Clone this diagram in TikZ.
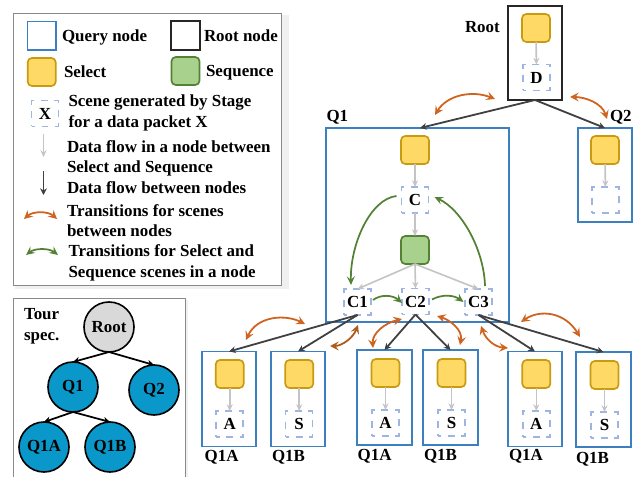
\documentclass[tikz,border=0pt]{standalone}
\usepackage{fontspec}
\setmainfont{Liberation Serif}
\usetikzlibrary{arrows.meta,calc}
\definecolor{qblue}{HTML}{3D80BF}
\definecolor{selfill}{HTML}{FFD966}
\definecolor{seldraw}{HTML}{C89B10}
\definecolor{seqfill}{HTML}{A9D18E}
\definecolor{seqdraw}{HTML}{548235}
\definecolor{scenec}{HTML}{9DB5E0}
\definecolor{orangec}{HTML}{CF6420}
\definecolor{darkorange}{HTML}{B05A1A}
\definecolor{flowgray}{HTML}{C4C4C4}
\definecolor{flowdark}{HTML}{404040}
\definecolor{treeblue}{HTML}{0A97C9}
\definecolor{frame}{HTML}{8A8A8A}
\tikzset{
  x=0.75pt,y=-0.75pt,
  every node/.style={font=\fontsize{12.7}{14}\selectfont\bfseries,inner sep=0pt,outer sep=0pt,text=black},
  wh/.style 2 args={minimum width=#1*0.75pt,minimum height=#2*0.75pt},
  qbox/.style 2 args={draw=qblue,line width=1.3pt,fill=white,wh={#1}{#2}},
  rootbox/.style 2 args={draw=black!85,line width=1.3pt,fill=white,wh={#1}{#2}},
  selbox/.style={draw=seldraw,fill=selfill,line width=1.25pt,rounded corners=3.2pt,wh={28}{28}},
  seqbox/.style={draw=seqdraw,fill=seqfill,line width=1.25pt,rounded corners=3.2pt,wh={28}{28}},
  scenebox/.style={draw=scenec,line width=1.15pt,wh={27}{26},dash pattern=on 5.2pt off 4.9pt,dash phase=2.6pt},
  lab/.style={anchor=base west},
  flow/.style={draw=flowgray,line width=1.2pt,-{Stealth[length=5pt,width=4.5pt]}},
  nodeflow/.style={draw=flowdark,line width=1.35pt,-{Stealth[length=5pt,width=5pt]}},
  orangearc/.style={draw=orangec,line width=1.35pt,{Stealth[length=6.5pt,width=6.5pt,inset=2.5pt]}-{Stealth[length=6.5pt,width=6.5pt,inset=2.5pt]}},
  greenarc/.style={draw=seqdraw,line width=1.3pt,-{Stealth[length=6.5pt,width=6pt,inset=2.5pt]}},
  greenarcs/.style={draw=seqdraw,line width=1.3pt,{Stealth[length=6.5pt,width=6pt,inset=2.5pt]}-{Stealth[length=6.5pt,width=6pt,inset=2.5pt]}},
  tree/.style={circle,draw=black,line width=1.2pt,minimum size=37.5pt},
  treearrow/.style={draw=black,line width=1.3pt,-{Stealth[length=5pt,width=5pt]}},
}
\begin{document}
\begin{tikzpicture}
\useasboundingbox (0,0) rectangle (639,477);
% legend
\fill[black!6] (15,15) rectangle (289,289);
\node[draw=frame,line width=0.7pt,fill=white,wh={268}{272}] (legend) at (147,149) {};
\node[qbox={28.5}{28.5}] (lq) at (41.7,35.7) {};
\node[rootbox={29}{29}] (lr) at (185.5,35.5) {};
\node[selbox] (ls) at (41.7,72) {};
\node[seqbox] (lseq) at (185.5,71) {};
\node[scenebox] (lx) at (45,113.5) {X};
\node[lab] (t1) at (62,41.5) {Query node};
\node[lab] (t2) at (204,41.5) {Root node};
\node[lab] (t3) at (64,78) {Select};
\node[lab] (t4) at (206,77) {Sequence};
\node[lab] (t5) at (68.5,107) {Scene generated by Stage};
\node[lab] (t6) at (68.5,128) {for a data packet X};
\node[lab] (t7) at (67,153) {Data flow in a node between};
\node[lab] (t8) at (67,173) {Select and Sequence};
\node[lab] (t9) at (67,194) {Data flow between nodes};
\node[lab] (t10) at (67,217) {Transitions for scenes};
\node[lab] (t11) at (67,237) {between nodes};
\node[lab] (t12) at (68.5,257) {Transitions for Select and};
\node[lab] (t13) at (68.5,278) {Sequence scenes in a node};
\coordinate (la1) at (43.5,134); \coordinate (la2) at (43.5,157);
\coordinate (lb1) at (43.5,171); \coordinate (lb2) at (43.5,195);
\coordinate (lc1) at (24,219); \coordinate (lc2) at (57,219);
\coordinate (ld1) at (26,255); \coordinate (ld2) at (58,255);
\draw[flow] (la1) -- (la2);
\draw[nodeflow] (lb1) -- (lb2);
\draw[orangearc] (lc1) .. controls (33,211) and (48,211) .. (lc2);
\draw[greenarcs] (ld1) .. controls (35,248) and (49,248) .. (ld2);
% tree panel
\fill[black!6] (15,300) rectangle (188,477);
\node[draw=frame,line width=0.7pt,fill=white,wh={172}{180}] (panel) at (99,388) {};
\node[lab] (tt1) at (24,320) {Tour};
\node[lab] (tt2) at (24,340) {spec.};
\node[tree,fill=black!15] (troot) at (109,327) {Root};
\node[tree,fill=treeblue] (tq1) at (73,387) {Q1};
\node[tree,fill=treeblue] (tq2) at (154,390) {Q2};
\node[tree,fill=treeblue] (tq1a) at (44,447) {Q1A};
\node[tree,fill=treeblue] (tq1b) at (110,447) {Q1B};
\draw[treearrow] (troot.south) -- (tq1.north);
\draw[treearrow] (troot.south) -- (tq2.north);
\draw[treearrow] (tq1.south) -- (tq1a.north);
\draw[treearrow] (tq1.south) -- (tq1b.north);
% root box
\node[rootbox={54}{94}] (root) at (535,53) {};
\node[selbox] (rs) at (536,28) {};
\node[scenebox] (rc) at (536.5,77.5) {D};
\draw[flow] (rs) -- (rc);
\node[lab] (rootl) at (465,33) {Root};
% Q1
\node[qbox={183}{194}] (q1) at (417.5,225) {};
\node[lab] (q1l) at (326.5,122) {Q1};
\node[selbox] (q1s) at (415,150) {};
\node[scenebox] (c) at (415,200) {C};
\node[seqbox] (q1q) at (415,250) {};
\node[scenebox] (c1) at (357.5,302) {C1};
\node[scenebox] (c2) at (415.5,301.5) {C2};
\node[scenebox] (c3) at (478.5,302) {C3};
\draw[flow] (q1s) -- (c);
\draw[flow] (c) -- (q1q);
\draw[flow] (q1q.south) -- (c1.north);
\draw[flow] (q1q.south) -- (c2.north);
\draw[flow] (q1q.south) -- (c3.north);
% Q2
\node[qbox={54}{94}] (q2) at (605,175) {};
\node[lab] (q2l) at (610,122) {Q2};
\node[selbox] (q2s) at (605,150) {};
\node[scenebox] (q2c) at (605.5,200) {};
\draw[flow] (q2s) -- (q2c);
% children
\node[qbox={54.5}{95}] (b1) at (229,399) {};
\node[qbox={54.5}{95}] (b2) at (298,399) {};
\node[qbox={54.5}{95}] (b3) at (384.5,397.5) {};
\node[qbox={54.5}{95}] (b4) at (450.5,397.5) {};
\node[qbox={54.5}{95}] (b5) at (535,399) {};
\node[qbox={54.5}{95}] (b6) at (603.5,399.5) {};
\node[selbox] (s1) at (229.7,374) {};
\node[selbox] (s2) at (299.2,374) {};
\node[selbox] (s3) at (385.5,373) {};
\node[selbox] (s4) at (451.5,373) {};
\node[selbox] (s5) at (536.3,374) {};
\node[selbox] (s6) at (604.5,375) {};
\node[scenebox] (a1) at (229.7,424) {A};
\node[scenebox] (a2) at (299.2,424) {S};
\node[scenebox] (a3) at (385.5,423) {A};
\node[scenebox] (a4) at (451.5,423) {S};
\node[scenebox] (a5) at (536.3,424) {A};
\node[scenebox] (a6) at (604.5,425) {S};
\foreach \i in {1,...,6} {\draw[flow] (s\i) -- (a\i);}
\node[lab] (l1) at (204.7,461) {Q1A};
\node[lab] (l2) at (272,461) {Q1B};
\node[lab] (l3) at (357.7,460.5) {Q1A};
\node[lab] (l4) at (424,460) {Q1B};
\node[lab] (l5) at (509,460) {Q1A};
\node[lab] (l6) at (576,463) {Q1B};
% flow between nodes
\draw[nodeflow] (root.south) -- ($(q1.north)+(2.5,0)$);
\draw[nodeflow] (root.south) -- (q2.north);
\draw[nodeflow] (c1.south) -- (b1.north);
\draw[nodeflow] (c1.south) -- (b2.north);
\draw[nodeflow] (c2.south) -- (b3.north);
\draw[nodeflow] (c2.south) -- (b4.north);
\draw[nodeflow] (c3.south) -- (b5.north);
\draw[nodeflow] (c3.south) -- (b6.north);
% green transitions
\draw[greenarc] ($(c.west)+(-5,-4)$) .. controls (370,199) and (350,245) .. ($(c1.north)+(-6.5,-4)$);
\draw[greenarc] ($(c3.north)+(6.5,-3)$) .. controls (484,250) and (462,210) .. ($(c.east)+(6,-3)$);
\draw[greenarc] ($(c1.east)+(2,-2)$) .. controls (381,294) and (393,295) .. ($(c2.west)+(0,1.5)$);
\draw[greenarc] ($(c2.east)+(3,-2)$) .. controls (442,294) and (454,295) .. ($(c3.west)+(-1.5,0)$);
% orange transitions
\coordinate (o1a) at (435,115); \coordinate (o1b) at (495,99);
\coordinate (o2a) at (570,97); \coordinate (o2b) at (607,119);
\coordinate (o3a) at (246,340); \coordinate (o3b) at (305,324);
\coordinate (o4a) at (330,346); \coordinate (o4b) at (358,325);
\coordinate (o5a) at (373,348); \coordinate (o5b) at (402,319);
\coordinate (o6a) at (437,316); \coordinate (o6b) at (460,345);
\coordinate (o7a) at (481,326); \coordinate (o7b) at (508,348);
\coordinate (o8a) at (521,322); \coordinate (o8b) at (580,337);
\draw[orangearc] (o1a) .. controls (447,95) and (472,90) .. (o1b);
\draw[orangearc] (o2a) .. controls (585,97) and (602,103) .. (o2b);
\draw[orangearc] (o3a) .. controls (257,316) and (285,314) .. (o3b);
\draw[orangearc,draw=darkorange] (o4a) .. controls (342,346) and (353,338) .. (o4b);
\draw[orangearc] (o5a) .. controls (372,333) and (385,323) .. (o5b);
\draw[orangearc] (o6a) .. controls (450,320) and (463,330) .. (o6b);
\draw[orangearc] (o7a) .. controls (486,340) and (495,347) .. (o7b);
\draw[orangearc] (o8a) .. controls (540,309) and (565,312) .. (o8b);
\end{tikzpicture}
\end{document}
